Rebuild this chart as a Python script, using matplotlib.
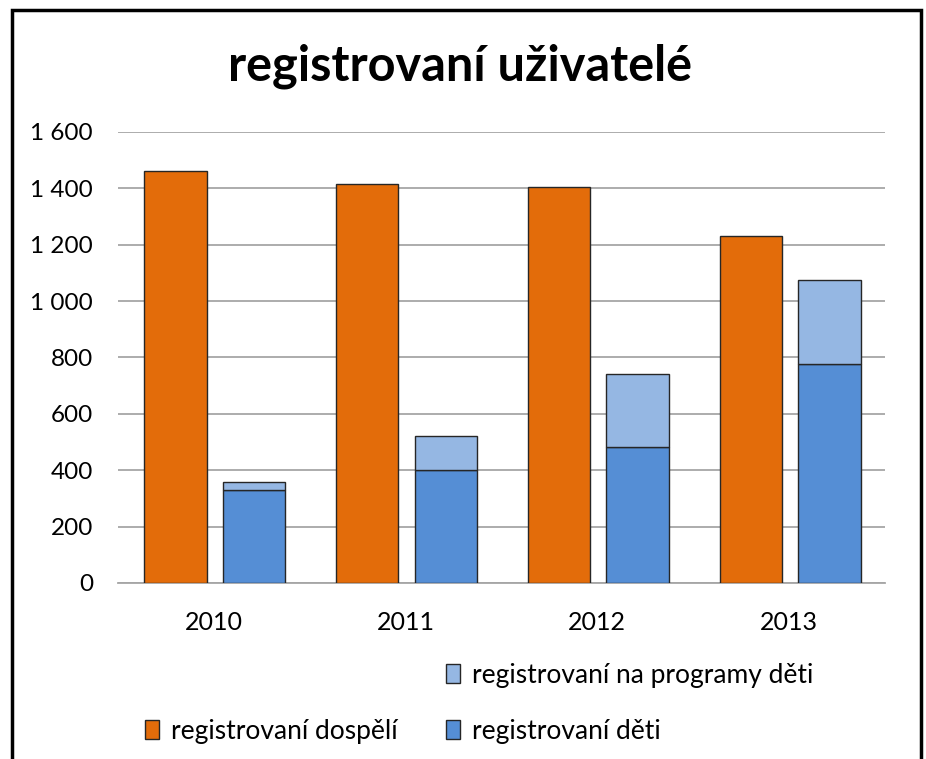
import matplotlib.pyplot as plt
from matplotlib.patches import Rectangle, Patch
from matplotlib.ticker import FuncFormatter
import numpy as np

plt.rcParams['font.family'] = ['Lato', 'DejaVu Sans']

roky = ['2010', '2011', '2012', '2013']
dospeli = [1460, 1415, 1405, 1230]
deti = [330, 400, 483, 778]
programy_deti = [28, 120, 260, 298]

c_orange = '#E36C0A'
c_blue = '#558ED5'
c_light = '#95B7E3'
c_edge = '#262626'

fig = plt.figure(figsize=(9.26, 7.59), dpi=100)
ax = fig.add_axes([0.1274, 0.2319, 0.8283, 0.5942])

x = np.arange(len(roky))
w = 0.325
ax.bar(x - 0.2, dospeli, w, color=c_orange, edgecolor=c_edge, linewidth=1, zorder=3)
ax.bar(x + 0.21, deti, w, color=c_blue, edgecolor=c_edge, linewidth=1, zorder=3)
ax.bar(x + 0.21, programy_deti, w, bottom=deti, color=c_light, edgecolor=c_edge, linewidth=1, zorder=3)

ax.set_xlim(-0.5, len(roky) - 0.5)
ax.set_ylim(0, 1600)
ax.set_yticks(range(0, 1601, 200))
ax.yaxis.set_major_formatter(FuncFormatter(lambda v, p: f"{int(v):,}".replace(",", " ")))
ax.set_xticks(x)
ax.set_xticklabels(roky)
ax.tick_params(axis='y', length=0, pad=18, labelsize=17.5)
ax.tick_params(axis='x', length=0, pad=20.5, labelsize=18)
ax.grid(axis='y', color='#a6a6a6', linewidth=1.3, zorder=0)
for s in ['top', 'right', 'left']:
    ax.spines[s].set_visible(False)
ax.spines['bottom'].set_color('#a6a6a6')
ax.spines['bottom'].set_linewidth(1.3)

fig.text(0.497, 0.913, 'registrovaní uživatelé', ha='center', va='center',
         fontsize=35, fontweight='bold')

# legenda jako v Excelu: dva sloupce, levy horni prazdny
handles = [Patch(visible=False),
           Patch(facecolor=c_orange, edgecolor=c_edge),
           Patch(facecolor=c_light, edgecolor=c_edge),
           Patch(facecolor=c_blue, edgecolor=c_edge)]
labels = ['', 'registrovaní dospělí', 'registrovaní na programy děti', 'registrovaní děti']
fig.legend(handles, labels, ncol=2, loc='upper left', bbox_to_anchor=(0.1305, 0.158),
           frameon=False, fontsize=19, handlelength=0.55, handleheight=0.75,
           handletextpad=0.45, columnspacing=1.83, labelspacing=1.18)

# ramecek grafu
fig.add_artist(Rectangle((0.013, -0.01), 0.982, 0.997, transform=fig.transFigure,
                         fill=False, edgecolor='black', linewidth=2.5))

fig.savefig('out.png', dpi=100)
